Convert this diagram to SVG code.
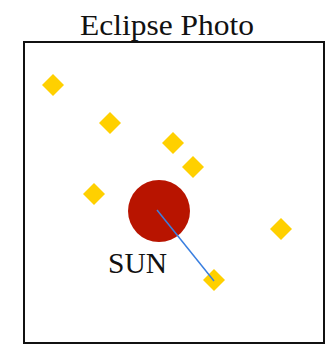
<svg xmlns="http://www.w3.org/2000/svg" width="329" height="348" viewBox="0 0 329 348">
<style>
.star{fill:#ffd000}
.t{font-family:"Liberation Serif","Times New Roman",serif;fill:#111}
</style>
<defs>
<path id="d" d="M0,-11 L11,0 L0,11 L-11,0 Z"/>
</defs>
<rect x="0" y="0" width="329" height="348" fill="#fff"/>
<g id="frame">
<rect x="24" y="42" width="300" height="301" fill="#fff" stroke="#111" stroke-width="2"/>
<text class="t" x="167" y="35" font-size="29" text-anchor="middle" textLength="174" lengthAdjust="spacingAndGlyphs">Eclipse Photo</text>
</g>
<g id="sun">
<circle cx="159" cy="211" r="31" fill="#b81400"/>
<text class="t" x="108" y="273" font-size="30" textLength="59" lengthAdjust="spacingAndGlyphs">SUN</text>
</g>
<g id="star1"><use href="#d" class="star" x="53" y="85"/></g>
<g id="star2"><use href="#d" class="star" x="110" y="123"/></g>
<g id="star3"><use href="#d" class="star" x="173" y="143"/></g>
<g id="star4"><use href="#d" class="star" x="193" y="167"/></g>
<g id="star5"><use href="#d" class="star" x="94" y="194"/></g>
<g id="star6"><use href="#d" class="star" x="281" y="229"/></g>
<g id="star7"><use href="#d" class="star" x="214" y="280"/></g>
<g id="connectors">
<line x1="157" y1="210" x2="214" y2="281" stroke="#3a7fe0" stroke-width="1.5"/>
</g>
</svg>
